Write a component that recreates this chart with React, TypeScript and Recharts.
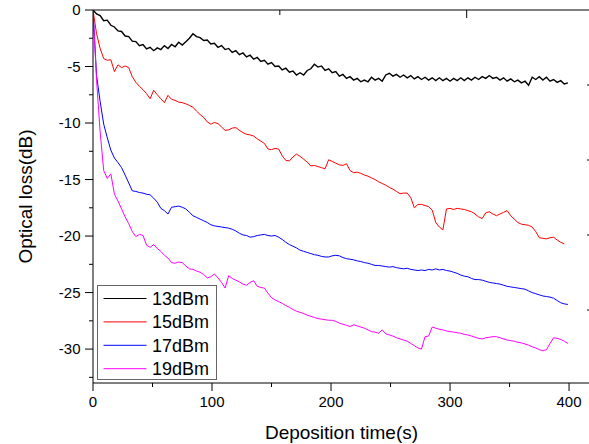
import { LineChart, Line, XAxis, YAxis, Legend } from "recharts";

// Optical loss vs. deposition time, four input powers.

const time = [
  0, 3, 6, 9, 12, 15, 18, 21, 24, 27,
  30, 33, 36, 39, 42, 45, 48, 51, 54, 57,
  60, 63, 66, 69, 72, 75, 78, 81, 84, 87,
  90, 93, 96, 99, 102, 105, 108, 111, 114, 117,
  120, 123, 126, 129, 132, 135, 138, 141, 144, 147,
  150, 153, 156, 159, 162, 165, 168, 171, 174, 177,
  180, 183, 186, 189, 192, 195, 198, 201, 204, 207,
  210, 213, 216, 219, 222, 225, 228, 231, 234, 237,
  240, 243, 246, 249, 252, 255, 258, 261, 264, 267,
  270, 273, 276, 279, 282, 285, 288, 291, 294, 297,
  300, 303, 306, 309, 312, 315, 318, 321, 324, 327,
  330, 333, 336, 339, 342, 345, 348, 351, 354, 357,
  360, 363, 366, 369, 372, 375, 378, 381, 384, 387,
  390, 393, 396, 399,
];

const loss13 = [
  0, -0.35, -0.5, -0.95, -0.9, -1.35, -1.5, -1.85, -1.9, -2.3,
  -2.35, -2.75, -2.8, -3.15, -3.05, -3.45, -3.3, -3.6, -3.35, -3.5,
  -3.15, -3.4, -3.05, -3.25, -2.85, -3.1, -2.8, -2.5, -2.1, -2.35,
  -2.45, -2.7, -2.65, -3.0, -2.95, -3.3, -3.15, -3.5, -3.4, -3.75,
  -3.6, -3.95, -3.8, -4.15, -4.0, -4.35, -4.2, -4.55, -4.45, -4.8,
  -4.65, -5.0, -4.95, -5.3, -5.15, -5.5, -5.4, -5.75, -5.55, -5.75,
  -5.35, -5.2, -4.8, -5.05, -4.95, -5.35, -5.2, -5.55, -5.45, -5.85,
  -5.7, -6.05, -5.9, -6.2, -6.05, -6.35, -6.2, -6.35, -5.95, -6.2,
  -6.05, -6.3, -5.75, -5.6, -5.85, -5.7, -5.95, -5.75, -6.0, -5.8,
  -6.1, -5.9, -6.15, -5.95, -6.2, -6.0, -6.25, -6.0, -6.25, -6.05,
  -6.3, -6.05, -6.25, -6.0, -6.25, -6.0, -6.2, -5.95, -6.15, -5.9,
  -6.05, -5.8, -6.05, -5.95, -6.2, -6.0, -6.3, -6.1, -6.35, -6.2,
  -6.45, -6.3, -6.65, -5.95, -6.15, -5.9, -6.2, -5.95, -6.3, -6.15,
  -6.4, -6.25, -6.55, -6.45,
];

const loss15 = [
  0, -2.1, -3.4, -4.3, -4.45, -4.4, -5.45, -4.85, -5.1, -4.95,
  -5.1, -5.9, -6.4, -6.75, -7.05, -7.4, -7.85, -7.1, -7.5, -7.85,
  -8.2, -7.55, -7.9, -8.0, -8.15, -8.2, -8.3, -8.45, -8.6, -8.95,
  -9.25, -9.5, -9.9, -10.1, -9.95, -10.05, -10.35, -10.65, -10.6, -10.45,
  -10.4, -10.65, -10.85, -11.0, -11.05, -11.15, -11.4, -11.6, -11.8, -12.3,
  -12.35, -12.25, -12.3, -12.9, -13.3, -13.35, -13.0, -12.75, -12.95, -13.2,
  -13.45, -13.8, -13.75, -13.85, -13.95, -14.05, -13.25, -13.4, -13.55, -13.7,
  -13.75, -13.6, -14.2, -14.4, -14.35, -14.45, -14.6, -14.7, -14.85, -15.0,
  -15.2, -15.35, -15.5, -15.7, -15.85, -16.05, -16.25, -16.2, -16.2, -16.6,
  -17.5, -17.2, -17.2, -17.3, -17.4, -17.7, -18.8, -19.2, -19.45, -17.6,
  -17.55, -17.65, -17.55, -17.6, -17.65, -17.75, -17.85, -18.05, -18.3, -18.45,
  -17.95, -17.85, -18.05, -18.2, -18.05, -17.9, -17.75, -18.2, -18.5, -18.8,
  -18.95, -19.0, -19.05, -19.2, -19.6, -20.15, -20.2, -20.25, -20.15, -20.1,
  -20.35, -20.55, -20.7, null,
];

const loss17 = [
  0, -5.8, -8.1, -10.1, -11.3, -12.4, -13.1, -13.5, -13.95, -14.6,
  -15.3, -16.0, -16.05, -16.15, -16.2, -16.3, -16.35, -16.65, -17.0, -17.55,
  -17.75, -18.05, -17.45, -17.4, -17.35, -17.45, -17.6, -17.9, -18.2, -18.35,
  -18.5, -18.65, -18.8, -19.0, -19.1, -19.15, -19.2, -19.25, -19.3, -19.4,
  -19.55, -19.75, -19.9, -19.95, -20.1, -20.05, -19.95, -19.9, -19.85, -19.95,
  -20.0, -19.95, -20.1, -20.3, -20.55, -20.75, -20.9, -21.05, -21.25, -21.35,
  -21.45, -21.55, -21.65, -21.7, -21.8, -21.85, -21.85, -21.75, -21.7, -21.75,
  -21.9, -22.0, -22.05, -22.1, -22.2, -22.25, -22.35, -22.4, -22.5, -22.6,
  -22.6, -22.65, -22.7, -22.75, -22.7, -22.8, -22.85, -22.9, -22.85, -22.95,
  -23.0, -23.05, -23.0, -23.05, -22.95, -23.0, -22.9, -23.0, -22.95, -23.05,
  -23.1, -23.2, -23.3, -23.45, -23.55, -23.6, -23.75, -23.85, -23.85, -23.9,
  -24.0, -24.1, -24.15, -24.2, -24.25, -24.35, -24.45, -24.5, -24.55, -24.6,
  -24.65, -24.7, -24.85, -25.0, -25.1, -25.2, -25.3, -25.35, -25.4, -25.5,
  -25.7, -25.9, -26.0, -26.05,
];

const loss19 = [
  0, -6.2, -10.8, -14.2, -14.9, -14.5, -16.3, -16.9, -17.6, -18.3,
  -18.9, -19.6, -20.05, -19.85, -19.95, -20.8, -21.0, -20.75, -21.1, -21.35,
  -21.7, -21.95, -22.35, -22.4, -22.3, -22.35, -22.65, -22.9, -22.95, -23.1,
  -23.2, -23.4, -23.7, -23.6, -23.35, -23.7, -24.1, -24.6, -23.5, -23.75,
  -23.9, -24.05, -24.25, -24.35, -24.1, -23.95, -24.45, -24.55, -24.6, -25.05,
  -25.45, -25.65, -25.8, -25.95, -26.15, -26.3, -26.5, -26.65, -26.75, -26.85,
  -27.0, -27.1, -27.2, -27.3, -27.35, -27.4, -27.45, -27.45, -27.55, -27.7,
  -27.8, -27.9, -28.0, -27.85, -27.95, -28.05, -28.15, -28.3, -28.45, -28.5,
  -28.6, -28.3, -28.65, -28.75, -28.85, -29.0, -29.1, -29.2, -29.3, -29.5,
  -29.7, -29.9, -30.0, -28.9, -28.85, -28.05, -28.15, -28.25, -28.3, -28.4,
  -28.45, -28.5, -28.55, -28.6, -28.7, -28.75, -28.85, -28.95, -29.05, -29.1,
  -29.0, -28.95, -28.9, -28.9, -29.0, -29.1, -29.2, -29.25, -29.3, -29.4,
  -29.45, -29.55, -29.65, -29.8, -29.9, -30.05, -30.15, -30.05, -29.5, -29.0,
  -29.05, -29.15, -29.3, -29.5,
];

const seriesNames = ["13dBm", "15dBm", "17dBm", "19dBm"];
const seriesColors = ["#000000", "#ff0000", "#0000ff", "#ff00ff"];
const seriesKeys = ["p13", "p15", "p17", "p19"];

const xTicks = [0, 50, 100, 150, 200, 250, 300, 350, 400];
const yTicks = [-32.5, -30, -27.5, -25, -22.5, -20, -17.5, -15, -12.5, -10, -7.5, -5, -2.5, 0];
// mirror axes (top/right) only carry unlabelled tick marks
const topTicks = [50, 100, 150, 200, 250, 300, 350, 400, 450];
const rightTicks = [75, 150, 225, 300];

const rows = time.map((t, i) => ({
  t,
  p13: loss13[i],
  p15: loss15[i],
  p17: loss17[i],
  p19: loss19[i],
}));

const FONT = "'Liberation Sans', Arial, sans-serif";

function renderBottomTick(props: any) {
  const { x, y, payload } = props;
  const major = payload.value % 100 === 0;
  return (
    <g>
      <line x1={x} y1={y} x2={x} y2={y + (major ? 8 : 4)} stroke="#000" />
      {major && (
        <text x={x} y={y + 24} textAnchor="middle" fontSize={15} fill="#000" fontFamily={FONT}>
          {payload.value}
        </text>
      )}
    </g>
  );
}

function renderLeftTick(props: any) {
  const { x, y, payload } = props;
  const major = payload.value % 5 === 0;
  return (
    <g>
      <line x1={x} y1={y} x2={x - (major ? 8 : 4)} y2={y} stroke="#000" />
      {major && (
        <text x={x - 12.5} y={y + 5.3} textAnchor="end" fontSize={15} fill="#000" fontFamily={FONT}>
          {payload.value}
        </text>
      )}
    </g>
  );
}

function renderTopTick(props: any) {
  const { x, y, payload } = props;
  const long = payload.value % 100 === 0;
  return <line x1={x} y1={y} x2={x} y2={y + (long ? 8 : 5)} stroke="#000" />;
}

function renderRightTick(props: any) {
  const { x, y } = props;
  return <line x1={x} y1={y} x2={x - 3} y2={y} stroke="#000" />;
}

function renderXTitle(props: any) {
  const { x, y, width } = props.viewBox;
  return (
    <text x={x + width / 2} y={y + 55.5} textAnchor="middle" fontSize={19} fill="#000" fontFamily={FONT}>
      Deposition time(s)
    </text>
  );
}

function renderYTitle(props: any) {
  const { x, y, height } = props.viewBox;
  const cx = x + 32;
  const cy = y + height / 2;
  return (
    <text
      x={cx}
      y={cy}
      transform={`rotate(-90 ${cx} ${cy})`}
      textAnchor="middle"
      fontSize={19}
      fill="#000"
      fontFamily={FONT}
    >
      Optical loss(dB)
    </text>
  );
}

function LegendBox() {
  return (
    <svg width={121} height={96} style={{ display: "block" }}>
      <rect x={0.5} y={0.5} width={119} height={94} fill="#fff" stroke="#666" />
      {seriesNames.map((name, i) => {
        const cy = 13.5 + i * 23.4;
        return (
          <g key={name}>
            <line x1={6.5} y1={cy} x2={49.5} y2={cy} stroke={seriesColors[i]} strokeWidth={1} />
            <text x={55} y={cy + 6.4} fontSize={18} fill="#000" fontFamily={FONT}>
              {name}
            </text>
          </g>
        );
      })}
    </svg>
  );
}

export default function App() {
  return (
    <div
      style={{
        position: "absolute",
        left: 0,
        top: 0,
        width: 589,
        height: 444,
        overflow: "hidden",
        background: "#fff",
      }}
    >
      <LineChart
        width={592}
        height={444}
        data={rows}
        margin={{ top: 9, right: 1, bottom: 0, left: 0 }}
        style={{ fontFamily: FONT }}
      >
        <XAxis
          xAxisId="bottom"
          dataKey="t"
          type="number"
          domain={[0, 417.6]}
          allowDataOverflow
          ticks={xTicks}
          interval={0}
          height={61}
          tickLine={false}
          tickSize={0}
          tickMargin={0}
          axisLine={{ stroke: "#000" }}
          tick={renderBottomTick}
          label={renderXTitle}
        />
        <XAxis
          xAxisId="top"
          orientation="top"
          type="number"
          domain={[0, 497]}
          allowDataOverflow
          ticks={topTicks}
          interval={0}
          height={1}
          tickLine={false}
          tickSize={0}
          tickMargin={0}
          axisLine={{ stroke: "#000" }}
          tick={renderTopTick}
        />
        <YAxis
          yAxisId="left"
          type="number"
          domain={[-33, 0]}
          allowDataOverflow
          ticks={yTicks}
          interval={0}
          width={93}
          tickLine={false}
          tickSize={0}
          tickMargin={0}
          axisLine={{ stroke: "#000" }}
          tick={renderLeftTick}
          label={renderYTitle}
        />
        <YAxis
          yAxisId="right"
          orientation="right"
          type="number"
          domain={[0, 373]}
          reversed
          allowDataOverflow
          ticks={rightTicks}
          interval={0}
          width={1}
          tickLine={false}
          tickSize={0}
          tickMargin={0}
          axisLine={{ stroke: "#000" }}
          tick={renderRightTick}
        />
        <Legend
          layout="vertical"
          align="center"
          verticalAlign="middle"
          content={() => <LegendBox />}
          wrapperStyle={{ left: 97, top: 285, width: 121, height: 96 }}
        />
        {seriesKeys.map((key, i) => (
          <Line
            key={key}
            xAxisId="bottom"
            yAxisId="left"
            type="linear"
            dataKey={key}
            name={seriesNames[i]}
            stroke={seriesColors[i]}
            strokeWidth={i === 0 ? 1.4 : 1}
            dot={false}
            activeDot={false}
            isAnimationActive={false}
          />
        ))}
      </LineChart>
    </div>
  );
}
